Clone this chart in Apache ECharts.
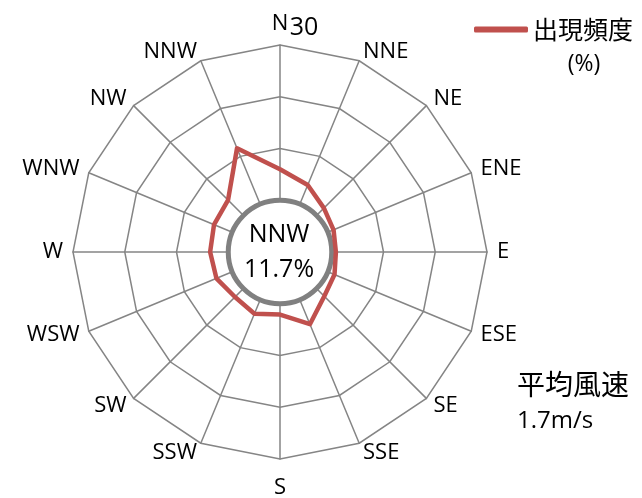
<!DOCTYPE html>
<html>
<head>
<meta charset="utf-8">
<script src="https://cdn.jsdelivr.net/npm/echarts@6/dist/echarts.min.js"></script>
<style>
html,body{margin:0;padding:0;background:#fff;}
#chart{width:642px;height:498px;}
</style>
</head>
<body>
<div id="chart"></div>
<script>
// Compass directions, clockwise from North
const directions = ['N','NNE','NE','ENE','E','ESE','SE','SSE','S','SSW','SW','WSW','W','WNW','NW','NNW'];
// Frequency of occurrence (%) per direction
const frequency = [6.0, 4.0, 2.0, 1.2, 0.8, 1.4, 2.1, 5.1, 2.1, 2.9, 2.3, 3.3, 3.5, 3.8, 4.2, 11.7];
const axisMin = -10;
const axisMax = 30;
const seriesName = '出現頻度';
const unitText = '(%)';
const maxLabel = '30';
const topDirection = 'NNW';
const topValue = '11.7%';
const speedTitle = '平均風速';
const speedValue = '1.7m/s';

// ECharts lays radar indicators counter-clockwise; reverse (keeping N first) for clockwise compass
const order = [0].concat(directions.map((d, i) => i).slice(1).reverse());
const indicators = order.map(i => ({ name: directions[i], min: axisMin, max: axisMax }));
const values = order.map(i => frequency[i]);

const cx = 280, cy = 252, R = 207;
const innerR = R * (0 - axisMin) / (axisMax - axisMin);
const grey = '#858585';
const latin = '"Open Sans", "Noto Sans", sans-serif';
const cjk = '"Noto Sans CJK JP", sans-serif';

const chart = echarts.init(document.getElementById('chart'), null, { renderer: 'canvas' });
chart.setOption({
  animation: false,
  backgroundColor: '#ffffff',
  legend: {
    data: [seriesName],
    left: 474,
    top: 17,
    padding: 0,
    itemWidth: 54,
    itemHeight: 6,
    icon: 'roundRect',
    textStyle: { fontFamily: cjk, fontSize: 25, color: '#000' }
  },
  radar: {
    center: [cx, cy],
    radius: R,
    startAngle: 90,
    shape: 'polygon',
    splitNumber: 4,
    indicator: indicators,
    nameGap: 10,
    axisName: {
      color: '#000', fontFamily: latin, fontSize: 22,
      formatter: function (name) { return name === 'S' ? '{s|S}' : name; },
      rich: { s: { fontFamily: latin, fontSize: 22, color: '#000', padding: [8, 0, 0, 0] } }
    },
    axisLine: { show: true, lineStyle: { color: grey, width: 1.5 } },
    splitLine: { show: true, lineStyle: { color: grey, width: 1.5 } },
    splitArea: { show: false },
    axisLabel: { show: false },
    axisTick: { show: false }
  },
  graphic: [
    { type: 'circle', z: 5, shape: { cx: cx, cy: cy, r: innerR }, style: { fill: '#fff', stroke: '#808080', lineWidth: 5 } },
    { type: 'text', z: 20, x: 279, y: 235, style: { text: topDirection, fontFamily: latin, fontSize: 25, fill: '#000', align: 'center', verticalAlign: 'middle' } },
    { type: 'text', z: 20, x: 279, y: 270, style: { text: topValue, fontFamily: latin, fontSize: 25, fill: '#000', align: 'center', verticalAlign: 'middle' } },
    { type: 'text', z: 20, x: 304, y: 28, style: { text: maxLabel, fontFamily: latin, fontSize: 25, fill: '#000', align: 'center', verticalAlign: 'middle' } },
    { type: 'text', z: 20, x: 584, y: 64, style: { text: unitText, fontFamily: latin, fontSize: 23, fill: '#000', align: 'center', verticalAlign: 'middle' } },
    { type: 'text', z: 20, x: 517, y: 384, style: { text: speedTitle, fontFamily: cjk, fontSize: 28, fill: '#000', align: 'left', verticalAlign: 'middle' } },
    { type: 'text', z: 20, x: 517, y: 421, style: { text: speedValue, fontFamily: latin, fontSize: 24, fill: '#000', align: 'left', verticalAlign: 'middle' } }
  ],
  series: [{
    type: 'radar',
    z: 10,
    symbol: 'none',
    lineStyle: { color: '#c0504d', width: 4.5 },
    itemStyle: { color: '#c0504d' },
    data: [{ name: seriesName, value: values }]
  }]
});
</script>
</body>
</html>
